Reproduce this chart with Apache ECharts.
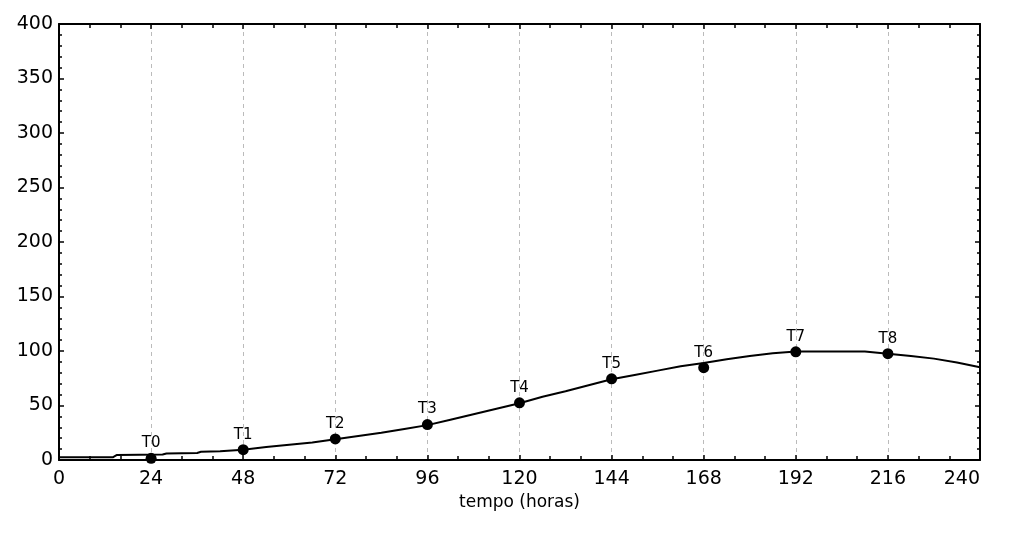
<!DOCTYPE html>
<html>
<head>
<meta charset="utf-8">
<script src="https://cdn.jsdelivr.net/npm/echarts@6/dist/echarts.min.js"></script>
<style>
html,body{margin:0;padding:0;background:#fff;}
#chart{width:1013px;height:538px;}
</style>
</head>
<body>
<div id="chart"></div>
<script>
// Fitted curve (hours, value)
const curveHours  = [0, 14, 15, 27, 28, 36, 37, 42, 48, 54, 60, 66, 72, 78, 84, 90, 96, 102, 108, 114, 120, 126, 132, 138, 144, 150, 156, 162, 168, 174, 180, 186, 192, 198, 204, 210, 216, 222, 228, 234, 240];
const curveValues = [2.5, 2.5, 4.5, 5, 6, 6.5, 7.5, 8, 9.5, 12, 14, 16, 19, 22, 25, 28.5, 32, 37, 42, 47, 52, 58, 63, 68.5, 74, 78, 82, 86, 89, 92.5, 95.5, 98, 99.5, 99.5, 99.5, 99.5, 97.5, 95.5, 93, 89.5, 85];
// Observed points
const pointLabels = ['T0', 'T1', 'T2', 'T3', 'T4', 'T5', 'T6', 'T7', 'T8'];
const pointHours  = [24, 48, 72, 96, 120, 144, 168, 192, 216];
const pointValues = [1.5, 9.5, 19.3, 32.5, 52.5, 74.5, 84.7, 99.2, 97.5];
const xAxisName = 'tempo (horas)';

const chart = echarts.init(document.getElementById('chart'), null, {renderer: 'canvas'});

const font = 'DejaVu Sans';
const axisCommonX = {
  type: 'value', min: 0, max: 240, interval: 24,
  axisLine: {show: true, onZero: false, lineStyle: {color: '#000', width: 2}},
  axisTick: {show: true, inside: true, length: 5, lineStyle: {color: '#000', width: 1.5}},
  minorTick: {show: true, splitNumber: 3, length: 4, lineStyle: {color: '#000', width: 1.5}},
  splitLine: {show: false}
};
const axisCommonY = {
  type: 'value', min: 0, max: 400, interval: 50,
  axisLine: {show: true, onZero: false, lineStyle: {color: '#000', width: 2}},
  axisTick: {show: true, inside: true, length: 5, lineStyle: {color: '#000', width: 1.5}},
  minorTick: {show: true, splitNumber: 5, length: 3, lineStyle: {color: '#000', width: 1.5}},
  splitLine: {show: false}
};

const option = {
  backgroundColor: '#fff',
  animation: false,
  grid: {left: 59, right: 33, top: 24, bottom: 78, containLabel: false},
  xAxis: [
    Object.assign({}, axisCommonX, {
      position: 'bottom',
      name: xAxisName, nameLocation: 'middle', nameGap: 31,
      nameTextStyle: {fontFamily: font, fontSize: 17, color: '#000'},
      axisLabel: {show: true, fontFamily: font, fontSize: 19, color: '#000', margin: 10, alignMaxLabel: 'right'},
      splitLine: {show: true, lineStyle: {color: '#bbb', type: [4, 4], width: 1}}
    }),
    Object.assign({}, axisCommonX, {position: 'top', axisLabel: {show: false}})
  ],
  yAxis: [
    Object.assign({}, axisCommonY, {
      position: 'left',
      axisLabel: {show: true, fontFamily: font, fontSize: 19, color: '#000', margin: 6}
    }),
    Object.assign({}, axisCommonY, {position: 'right', axisLabel: {show: false}})
  ],
  series: [
    {
      type: 'line',
      xAxisIndex: 0, yAxisIndex: 0,
      data: curveHours.map((h, i) => [h, curveValues[i]]),
      showSymbol: false,
      smooth: false,
      lineStyle: {color: '#000', width: 2},
      z: 3
    },
    {
      type: 'scatter',
      xAxisIndex: 0, yAxisIndex: 0,
      clip: true,
      symbol: 'circle',
      symbolSize: 11,
      itemStyle: {color: '#000', opacity: 1},
      data: pointHours.map((h, i) => ({value: [h, pointValues[i]], name: pointLabels[i]})),
      label: {
        show: true, position: 'top', distance: 2,
        formatter: p => p.name,
        fontFamily: font, fontSize: 15, color: '#000', opacity: 1
      },
      z: 4
    }
  ]
};
chart.setOption(option);
</script>
</body>
</html>
